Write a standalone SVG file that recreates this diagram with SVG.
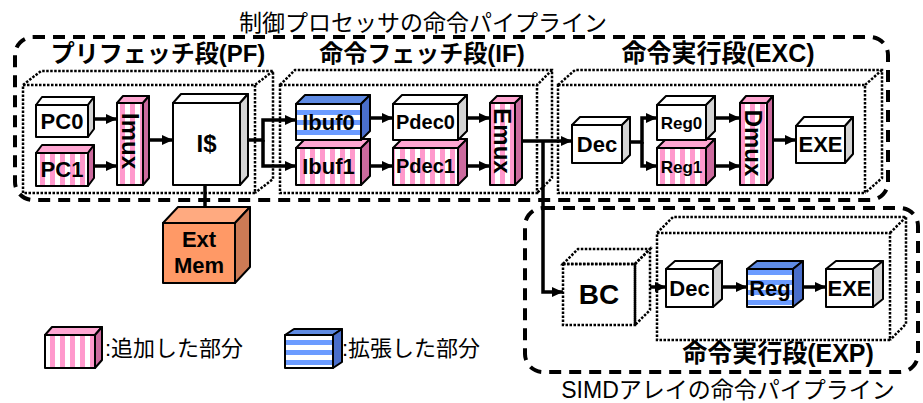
<svg xmlns="http://www.w3.org/2000/svg" width="923" height="403" viewBox="0 0 923 403">
<defs>
<pattern id="pk" patternUnits="userSpaceOnUse" width="10" height="10"><rect width="10" height="10" fill="#fff"/><rect width="5" height="10" fill="#ff99cc"/></pattern>
<pattern id="bl" patternUnits="userSpaceOnUse" width="10" height="10"><rect width="10" height="10" fill="#fff"/><rect width="10" height="5" fill="#6c9cff"/></pattern>
<marker id="ah" markerUnits="userSpaceOnUse" markerWidth="11" markerHeight="10" refX="11" refY="5" orient="auto"><path d="M0,0 L11,5 L0,10 z" fill="#000"/></marker>
</defs>
<style>
.f{stroke:#000;stroke-width:2;stroke-linejoin:round}
.w{fill:#fff}
.g{fill:#d4d4d4}
.pf{fill:url(#pk)}
.bf{fill:url(#bl)}
.pt{fill:#ffa6d2}
.ps{fill:#cc6a9e}
.bt{fill:#5f8be3}
.bs{fill:#4a6fcc}
.dash{fill:none;stroke:#000;stroke-width:4;stroke-dasharray:12 8}
.dot{fill:none;stroke:#000;stroke-width:2.5;stroke-dasharray:2.5 1.5}
.lb{font-family:"Liberation Sans","Noto Sans CJK JP",sans-serif;font-weight:bold;text-anchor:middle;fill:#000}
.tt{font-family:"Liberation Sans","Noto Sans CJK JP",sans-serif;fill:#000}
.c{fill:none;stroke:#000;stroke-width:3.5;stroke-linejoin:miter}
</style>

<!-- pipeline enclosures -->
<g id="proc-pipeline">
<rect class="dash" x="15" y="37" width="873" height="163" rx="18"/>
<text class="tt" x="423" y="31" font-size="23" text-anchor="middle">制御プロセッサの命令パイプライン</text>
</g>
<g id="simd-pipeline">
<rect class="dash" x="525" y="208" width="393" height="164" rx="18"/>
<text class="tt" x="728" y="398" font-size="23" text-anchor="middle">SIMDアレイの命令パイプライン</text>
</g>

<!-- stages -->
<g id="stage-pf">
<rect class="dot" x="23" y="85" width="232" height="108"/>
<path class="dot" d="M23,85 L41,71 H273 V179 L255,193 M273,71 L255,85"/>
<text class="lb" x="158" y="62" font-size="24">プリフェッチ段(PF)</text>
</g>
<g id="stage-if">
<rect class="dot" x="280" y="85" width="257" height="108"/>
<path class="dot" d="M280,85 L295,70 H552 V178 L537,193 M552,70 L537,85"/>
<text class="lb" x="422" y="62" font-size="24">命令フェッチ段(IF)</text>
</g>
<g id="stage-exc">
<rect class="dot" x="558" y="85" width="307" height="108"/>
<path class="dot" d="M558,85 L575,70 H882 V178 L865,193 M882,70 L865,85"/>
<text class="lb" x="718" y="62" font-size="25">命令実行段(EXC)</text>
</g>
<g id="stage-exp">
<rect class="dot" x="657" y="233" width="233" height="107"/>
<path class="dot" d="M657,233 L673,217 H906 V324 L890,340 M906,217 L890,233"/>
<text class="lb" x="778" y="362" font-size="25">命令実行段(EXP)</text>
</g>

<!-- connectors -->
<g id="connectors">
<path class="c" d="M94,119 H117" marker-end="url(#ah)"/>
<path class="c" d="M94,166 H117" marker-end="url(#ah)"/>
<path class="c" d="M149,140 H173" marker-end="url(#ah)"/>
<path class="c" d="M248,140 H263 V120 H296" marker-end="url(#ah)"/>
<path class="c" d="M263,140 V166 H296" marker-end="url(#ah)"/>
<path class="c" d="M370,118 H393" marker-end="url(#ah)"/>
<path class="c" d="M370,166 H393" marker-end="url(#ah)"/>
<path class="c" d="M467,118 H490" marker-end="url(#ah)"/>
<path class="c" d="M467,166 H490" marker-end="url(#ah)"/>
<path class="c" d="M522,141 H572" marker-end="url(#ah)"/>
<path class="c" d="M543,141 V292 H563" marker-end="url(#ah)"/>
<path class="c" d="M630,142 H642 V118 H657" marker-end="url(#ah)"/>
<path class="c" d="M642,142 V166 H657" marker-end="url(#ah)"/>
<path class="c" d="M715,118 H740" marker-end="url(#ah)"/>
<path class="c" d="M715,166 H740" marker-end="url(#ah)"/>
<path class="c" d="M773,140 H796" marker-end="url(#ah)"/>
<path class="c" d="M205,185 V218"/>
<path class="c" d="M650,287 H666" marker-end="url(#ah)"/>
<path class="c" d="M722,287 H747" marker-end="url(#ah)"/>
<path class="c" d="M803,287 H826" marker-end="url(#ah)"/>
</g>

<!-- nodes -->
<g id="pc0">
<path class="f w" d="M36,105 L42,97 L94,97 L88,105 Z"/>
<path class="f g" d="M88,105 L94,97 L94,129 L88,137 Z"/>
<rect class="f w" x="36" y="105" width="52" height="32"/>
<text class="lb" x="62" y="129" font-size="22">PC0</text>
</g>
<g id="pc1">
<path class="f pt" d="M36,153 L42,145 L94,145 L88,153 Z"/>
<path class="f ps" d="M88,153 L94,145 L94,178 L88,186 Z"/>
<rect class="f pf" x="36" y="153" width="52" height="33"/>
<text class="lb" x="62" y="177" font-size="22">PC1</text>
</g>
<g id="imux">
<path class="f pt" d="M117,103 L123,96 L149,96 L143,103 Z"/>
<path class="f ps" d="M143,103 L149,96 L149,178 L143,185 Z"/>
<rect class="f pf" x="117" y="103" width="26" height="82"/>
<text class="lb" font-size="24" transform="translate(130,141) rotate(90)" y="8.5">Imux</text>
</g>
<g id="icache">
<path class="f w" d="M173,103 L181,94 L248,94 L240,103 Z"/>
<path class="f g" d="M240,103 L248,94 L248,176 L240,185 Z"/>
<rect class="f w" x="173" y="103" width="67" height="82"/>
<text class="lb" x="206.5" y="152" font-size="24">I$</text>
</g>
<g id="extmem">
<path class="f" fill="#ffaa80" d="M163,223 L178,207 L250,207 L235,223 Z"/>
<path class="f" fill="#cc7a55" d="M235,223 L250,207 L250,267 L235,283 Z"/>
<rect class="f" fill="#ff9966" x="163" y="223" width="72" height="60"/>
<text class="lb" x="199" y="247" font-size="22">Ext</text>
<text class="lb" x="199" y="273" font-size="22">Mem</text>
</g>
<g id="ibuf1">
<path class="f pt" d="M296,148 L305,139 L370,139 L361,148 Z"/>
<path class="f ps" d="M361,148 L370,139 L370,176 L361,185 Z"/>
<rect class="f pf" x="296" y="148" width="65" height="37"/>
<text class="lb" x="328.5" y="174" font-size="22">Ibuf1</text>
</g>
<g id="ibuf0">
<path class="f bt" d="M296,104 L305,95 L370,95 L361,104 Z"/>
<path class="f bs" d="M361,104 L370,95 L370,131 L361,140 Z"/>
<rect class="f bf" x="296" y="104" width="65" height="36"/>
<text class="lb" x="328.5" y="130" font-size="22">Ibuf0</text>
</g>
<g id="pdec1">
<path class="f pt" d="M393,148 L402,139 L467,139 L458,148 Z"/>
<path class="f ps" d="M458,148 L467,139 L467,176 L458,185 Z"/>
<rect class="f pf" x="393" y="148" width="65" height="37"/>
<text class="lb" x="425.5" y="173" font-size="20">Pdec1</text>
</g>
<g id="pdec0">
<path class="f w" d="M393,104 L402,95 L467,95 L458,104 Z"/>
<path class="f g" d="M458,104 L467,95 L467,131 L458,140 Z"/>
<rect class="f w" x="393" y="104" width="65" height="36"/>
<text class="lb" x="425.5" y="129" font-size="20">Pdec0</text>
</g>
<g id="emux">
<path class="f pt" d="M490,103 L497,96 L522,96 L515,103 Z"/>
<path class="f ps" d="M515,103 L522,96 L522,178 L515,185 Z"/>
<rect class="f pf" x="490" y="103" width="25" height="82"/>
<text class="lb" font-size="24" transform="translate(502.5,141) rotate(90)" y="8.5">Emux</text>
</g>
<g id="dec">
<path class="f w" d="M572,125 L580,117 L630,117 L622,125 Z"/>
<path class="f g" d="M622,125 L630,117 L630,155 L622,163 Z"/>
<rect class="f w" x="572" y="125" width="50" height="38"/>
<text class="lb" x="597" y="152" font-size="22">Dec</text>
</g>
<g id="reg1">
<path class="f pt" d="M657,148 L666,139 L715,139 L706,148 Z"/>
<path class="f ps" d="M706,148 L715,139 L715,176 L706,185 Z"/>
<rect class="f pf" x="657" y="148" width="49" height="37"/>
<text class="lb" x="681.5" y="172.5" font-size="17">Reg1</text>
</g>
<g id="reg0">
<path class="f w" d="M657,105 L666,96 L715,96 L706,105 Z"/>
<path class="f g" d="M706,105 L715,96 L715,131 L706,140 Z"/>
<rect class="f w" x="657" y="105" width="49" height="35"/>
<text class="lb" x="681.5" y="128.5" font-size="17">Reg0</text>
</g>
<g id="dmux">
<path class="f pt" d="M740,103 L746,96 L773,96 L767,103 Z"/>
<path class="f ps" d="M767,103 L773,96 L773,178 L767,185 Z"/>
<rect class="f pf" x="740" y="103" width="27" height="82"/>
<text class="lb" font-size="24" transform="translate(753.5,143) rotate(90)" y="8.5">Dmux</text>
</g>
<g id="exe">
<path class="f w" d="M796,126 L804,117 L853,117 L845,126 Z"/>
<path class="f g" d="M845,126 L853,117 L853,154 L845,163 Z"/>
<rect class="f w" x="796" y="126" width="49" height="37"/>
<text class="lb" x="820.5" y="152" font-size="22">EXE</text>
</g>
<g id="bc">
<path class="dot" fill="#fff" d="M563,264 L578,249 L650,249 L635,264 Z"/>
<path class="dot" fill="#d4d4d4" d="M635,264 L650,249 L650,310 L635,325 Z"/>
<rect class="dot" fill="#fff" x="563" y="264" width="72" height="61"/>
<text class="lb" x="599" y="304" font-size="28">BC</text>
</g>
<g id="dec2">
<path class="f w" d="M666,269 L675,261 L722,261 L713,269 Z"/>
<path class="f g" d="M713,269 L722,261 L722,299 L713,307 Z"/>
<rect class="f w" x="666" y="269" width="47" height="38"/>
<text class="lb" x="689.5" y="296" font-size="22">Dec</text>
</g>
<g id="reg2">
<path class="f bt" d="M747,269 L757,261 L803,261 L793,269 Z"/>
<path class="f bs" d="M793,269 L803,261 L803,299 L793,307 Z"/>
<rect class="f bf" x="747" y="269" width="46" height="38"/>
<text class="lb" x="770" y="296" font-size="22">Reg</text>
</g>
<g id="exe2">
<path class="f w" d="M826,269 L836,261 L883,261 L873,269 Z"/>
<path class="f g" d="M873,269 L883,261 L883,299 L873,307 Z"/>
<rect class="f w" x="826" y="269" width="47" height="38"/>
<text class="lb" x="849.5" y="296" font-size="22">EXE</text>
</g>

<!-- legend -->
<g id="legend-added">
<path class="f pt" d="M45,335 L52,327 L102,327 L95,335 Z"/>
<path class="f ps" d="M95,335 L102,327 L102,360 L95,368 Z"/>
<rect class="f pf" x="45" y="335" width="50" height="33"/>
<text class="tt" x="105" y="356" font-size="22">:追加した部分</text>
</g>
<g id="legend-extended">
<path class="f bt" d="M285,335 L294,329 L342,329 L333,335 Z"/>
<path class="f bs" d="M333,335 L342,329 L342,362 L333,368 Z"/>
<rect class="f bf" x="285" y="335" width="48" height="33"/>
<text class="tt" x="342" y="356" font-size="22">:拡張した部分</text>
</g>
</svg>
